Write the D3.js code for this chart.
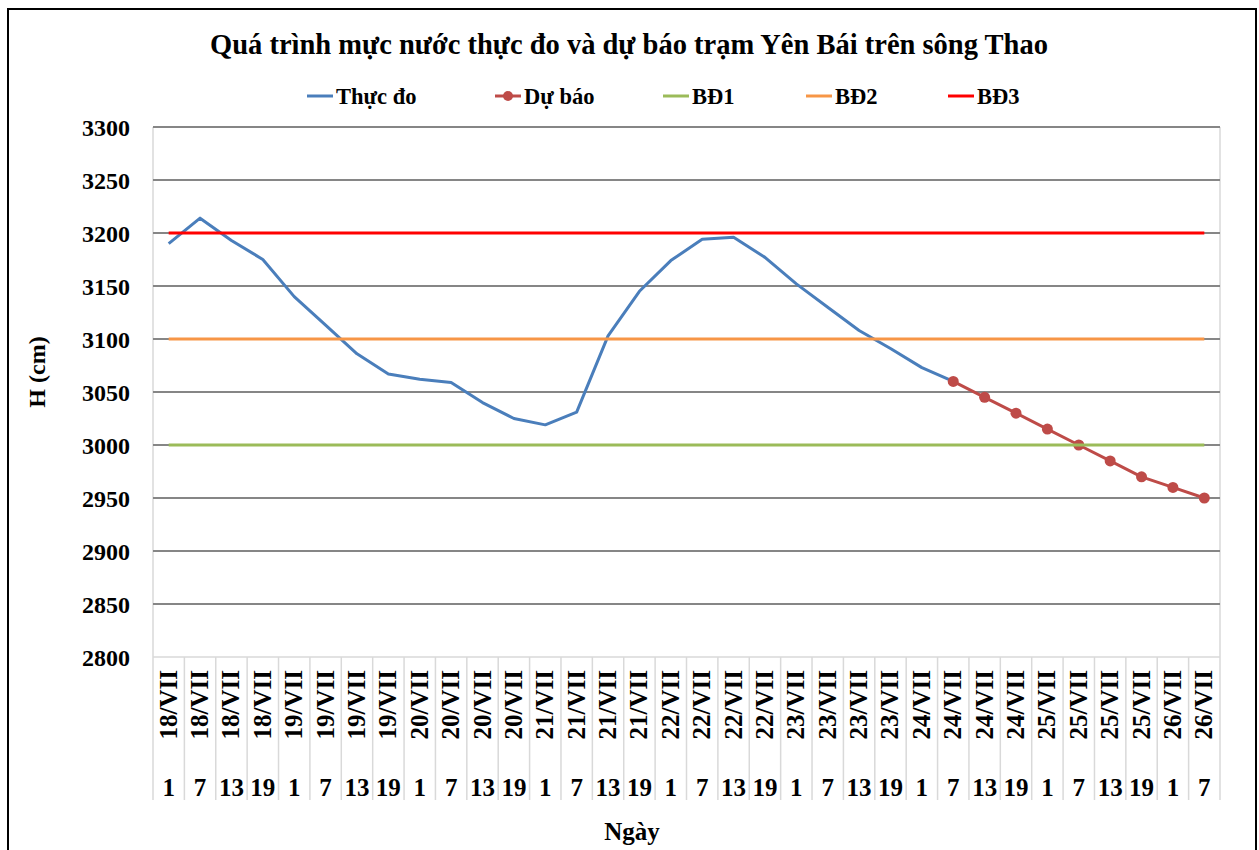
<!DOCTYPE html>
<html><head><meta charset="utf-8">
<script src="https://cdn.jsdelivr.net/npm/d3@7"></script>
<style>
html,body{margin:0;padding:0;background:#fff;}
svg{display:block;font-family:"Liberation Serif","Times New Roman",serif;font-weight:bold;}
</style></head>
<body><svg id="c" width="1259" height="850"></svg>
<script>
const days = ["18/VII","18/VII","18/VII","18/VII","19/VII","19/VII","19/VII","19/VII","20/VII","20/VII","20/VII","20/VII","21/VII","21/VII","21/VII","21/VII","22/VII","22/VII","22/VII","22/VII","23/VII","23/VII","23/VII","23/VII","24/VII","24/VII","24/VII","24/VII","25/VII","25/VII","25/VII","25/VII","26/VII","26/VII"];
const hours = [1,7,13,19,1,7,13,19,1,7,13,19,1,7,13,19,1,7,13,19,1,7,13,19,1,7,13,19,1,7,13,19,1,7];
const thucDo = [3190,3214,3193,3175,3140,3113,3086,3067,3062,3059,3040,3025,3019,3031,3103,3145,3174,3194,3196,3177,3152,3130,3108,3091,3073,3060,null,null,null,null,null,null,null,null];
const duBao = [null,null,null,null,null,null,null,null,null,null,null,null,null,null,null,null,null,null,null,null,null,null,null,null,null,3060,3045,3030,3015,3000,2985,2970,2960,2950];
const bd1 = 3000, bd2 = 3100, bd3 = 3200;
const yTicks = [2800,2850,2900,2950,3000,3050,3100,3150,3200,3250,3300];
const title = "Quá trình mực nước thực đo và dự báo trạm Yên Bái trên sông Thao";
const legendNames = ["Thực đo","Dự báo","BĐ1","BĐ2","BĐ3"];
const colors = {thuc:"#4a7ebb", du:"#be4b48", bd1:"#9bbb59", bd2:"#f79646", bd3:"#ff0000"};

const svg = d3.select("#c");
const L=153, R=1220, T=127, B=657;
const idx = d3.range(days.length);
const x = d3.scaleBand().domain(idx).range([L,R]).padding(0);
const cx = i => x(i) + x.bandwidth()/2;
const y = d3.scaleLinear().domain([2800,3300]).range([B,T]);

// outer border
svg.append("rect").attr("x",8).attr("y",9).attr("width",1248).attr("height",860)
  .attr("fill","none").attr("stroke","#000").attr("stroke-width",2);

// title
svg.append("text").attr("x",629).attr("y",54).attr("text-anchor","middle")
  .attr("font-size",28.5).text(title);

// plot frame
svg.append("line").attr("x1",L).attr("x2",L).attr("y1",T).attr("y2",B).attr("stroke","#d9d9d9").attr("stroke-width",1.5);
svg.append("line").attr("x1",R).attr("x2",R).attr("y1",T).attr("y2",B).attr("stroke","#d9d9d9").attr("stroke-width",1.5);

// gridlines
svg.append("g").selectAll("line").data(yTicks.filter(d=>d>2800)).join("line")
  .attr("x1",L).attr("x2",R).attr("y1",d=>y(d)).attr("y2",d=>y(d))
  .attr("stroke","#868686").attr("stroke-width",2);
svg.append("line").attr("x1",L).attr("x2",R).attr("y1",B).attr("y2",B).attr("stroke","#d9d9d9").attr("stroke-width",1.5);

// y axis labels
const yAxis = d3.axisLeft(y).tickValues(yTicks).tickSize(0).tickPadding(0).tickFormat(d3.format("d"));
const gy = svg.append("g").attr("transform",`translate(130,0)`).call(yAxis);
gy.select(".domain").remove();
gy.selectAll("text").attr("font-size",24).attr("font-family","Liberation Serif").attr("font-weight","bold").attr("fill","#000").attr("dy","0.34em");

// y title
svg.append("text").attr("transform","translate(45,372) rotate(-90)").attr("text-anchor","middle")
  .attr("font-size",24).text("H (cm)");

// category separators
const bounds = idx.map(i=>x(i)).concat([R]);
svg.append("g").selectAll("line").data(bounds).join("line")
  .attr("x1",d=>d).attr("x2",d=>d).attr("y1",B).attr("y2",800)
  .attr("stroke","#d9d9d9").attr("stroke-width",1.5);

// x labels
svg.append("g").selectAll("text").data(idx).join("text")
  .attr("transform",i=>`translate(${cx(i)+8},670) rotate(-90)`)
  .attr("text-anchor","end").attr("font-size",25).text(i=>days[i]);
svg.append("g").selectAll("text").data(idx).join("text")
  .attr("x",cx).attr("y",796).attr("text-anchor","middle").attr("font-size",25).text(i=>hours[i]);

svg.append("text").attr("x",632).attr("y",840).attr("text-anchor","middle").attr("font-size",25).text("Ngày");

// series
const line = d3.line().defined(d=>d.v!=null).x(d=>cx(d.i)).y(d=>y(d.v));
svg.append("path").datum(thucDo.map((v,i)=>({i,v}))).attr("d",line)
  .attr("fill","none").attr("stroke",colors.thuc).attr("stroke-width",3).attr("stroke-linejoin","round");
svg.append("path").datum(duBao.map((v,i)=>({i,v}))).attr("d",line)
  .attr("fill","none").attr("stroke",colors.du).attr("stroke-width",3).attr("stroke-linejoin","round");
svg.append("g").selectAll("circle").data(duBao.map((v,i)=>({i,v})).filter(d=>d.v!=null)).join("circle")
  .attr("cx",d=>cx(d.i)).attr("cy",d=>y(d.v)).attr("r",5.5).attr("fill",colors.du);

// thresholds
[[bd1,colors.bd1],[bd2,colors.bd2],[bd3,colors.bd3]].forEach(([v,c])=>{
  svg.append("line").attr("x1",cx(0)).attr("x2",cx(idx.length-1)).attr("y1",y(v)).attr("y2",y(v))
    .attr("stroke",c).attr("stroke-width",3);
});

// legend
const legX = [307,495,663,806,948];
const legC = [colors.thuc,colors.du,colors.bd1,colors.bd2,colors.bd3];
const lg = svg.append("g");
legendNames.forEach((n,k)=>{
  lg.append("line").attr("x1",legX[k]).attr("x2",legX[k]+26).attr("y1",96).attr("y2",96)
    .attr("stroke",legC[k]).attr("stroke-width",3);
  if(k===1) lg.append("circle").attr("cx",legX[k]+13).attr("cy",96).attr("r",5).attr("fill",legC[k]);
  lg.append("text").attr("x",legX[k]+29).attr("y",104).attr("font-size",22.5).text(n);
});
</script></body></html>
